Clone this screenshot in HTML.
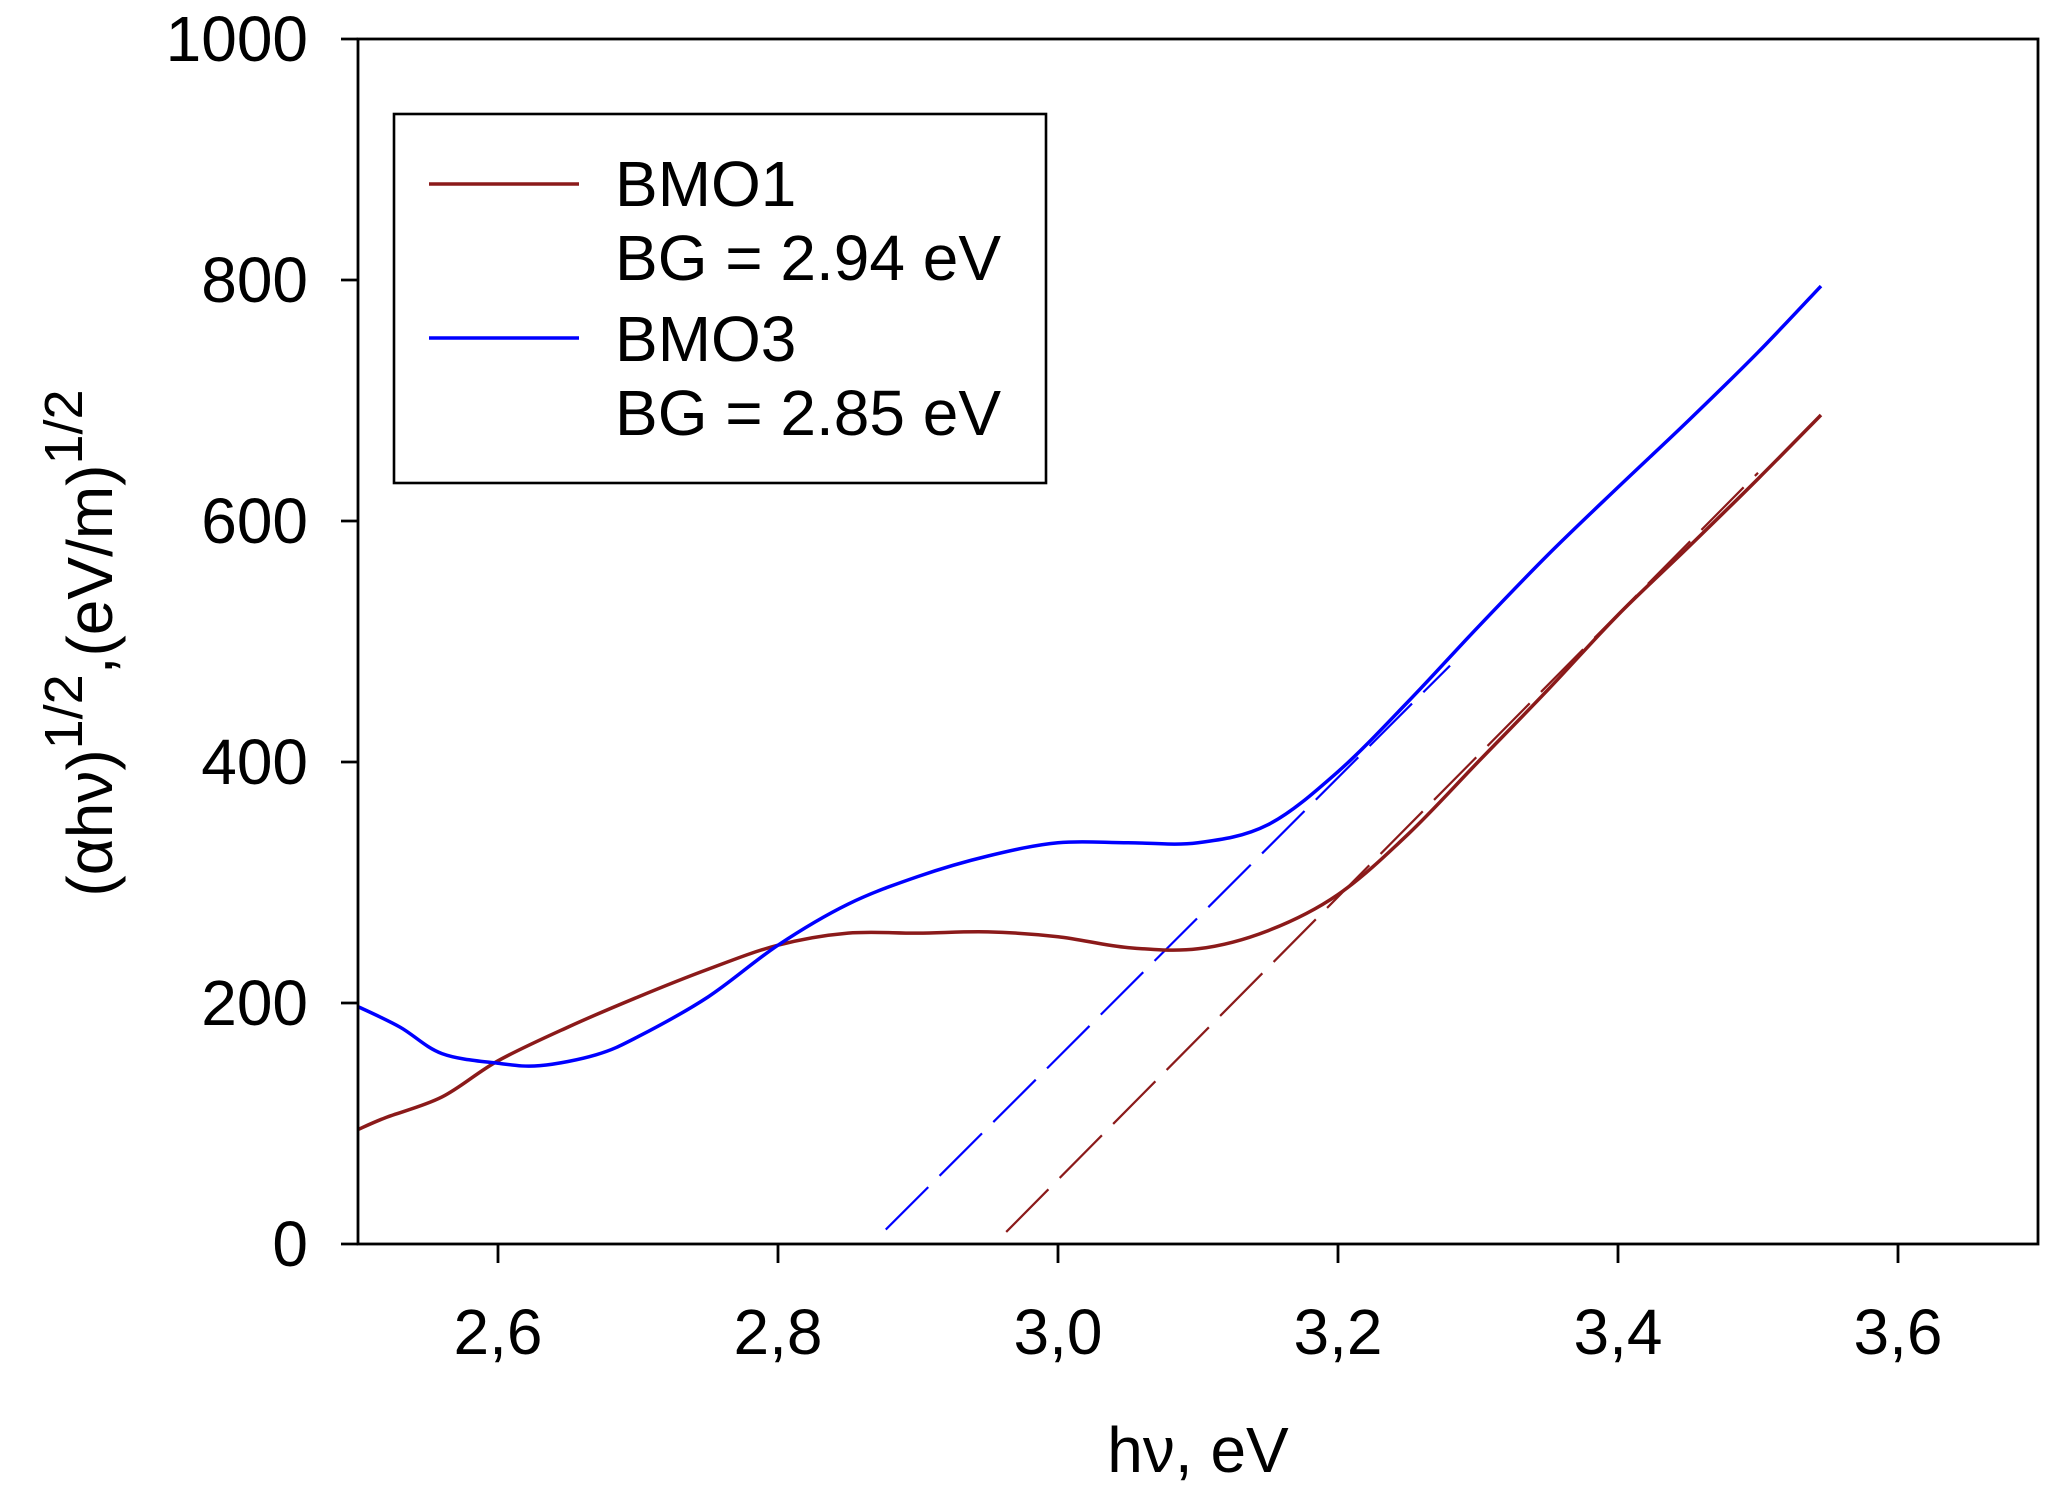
<!DOCTYPE html>
<html><head><meta charset="utf-8">
<style>
html,body{margin:0;padding:0;background:#fff;}
svg{display:block;font-family:"Liberation Sans",Arial,sans-serif;}
</style></head>
<body>
<svg id="chart" width="2057" height="1511" viewBox="0 0 2057 1511">
<rect x="0" y="0" width="2057" height="1511" fill="#fff"/>
<g id="plot"></g>
<g id="axes"></g>
<g>
  <rect x="394" y="114" width="652" height="369" fill="#fff" stroke="#000" stroke-width="2.6"/>
  <line x1="429" y1="184" x2="579" y2="184" stroke="#8b1a1a" stroke-width="3.5"/>
  <text x="615" y="206" font-size="64">BMO1</text>
  <text x="615" y="280" font-size="64">BG = 2.94 eV</text>
  <line x1="429" y1="338" x2="579" y2="338" stroke="#0000ff" stroke-width="3.5"/>
  <text x="615" y="361" font-size="64">BMO3</text>
  <text x="615" y="435" font-size="64">BG = 2.85 eV</text>
</g>
<text x="1198" y="1472" font-size="64" text-anchor="middle">hν, eV</text>
<text transform="translate(112,643) rotate(-90)" font-size="64" text-anchor="middle">(αhν)<tspan dy="-30" font-size="54">1/2</tspan><tspan dy="30">,(eV/m)</tspan><tspan dy="-30" font-size="54">1/2</tspan></text>
</svg>
<script>
const xTicks = [2.6, 2.8, 3.0, 3.2, 3.4, 3.6];
const xTickLabels = ["2,6", "2,8", "3,0", "3,2", "3,4", "3,6"];
const yTicks = [0, 200, 400, 600, 800, 1000];
const yTickLabels = ["0", "200", "400", "600", "800", "1000"];
const bmo1X = [2.5, 2.52, 2.56, 2.6, 2.65, 2.7, 2.75, 2.8, 2.85, 2.9, 2.95, 3.0, 3.05, 3.1, 3.15, 3.2, 3.25, 3.3, 3.35, 3.4, 3.45, 3.5, 3.545];
const bmo1Y = [95, 105, 122, 152, 180, 205, 228, 248, 258, 258, 259, 255, 246, 245, 260, 290, 340, 400, 460, 522, 578, 635, 688];
const bmo3X = [2.5, 2.53, 2.56, 2.6, 2.63, 2.67, 2.7, 2.75, 2.8, 2.85, 2.9, 2.95, 3.0, 3.05, 3.1, 3.15, 3.2, 3.25, 3.3, 3.35, 3.4, 3.45, 3.5, 3.545];
const bmo3Y = [197, 180, 158, 150, 148, 157, 172, 205, 248, 282, 305, 322, 333, 333, 333, 348, 392, 450, 512, 572, 628, 683, 740, 795];
const fit1X = [2.963, 3.5];
const fit1Y = [10, 640];
const fit3X = [2.877, 3.28];
const fit3Y = [12, 480];

const X0 = 358, X1 = 2038, Y0 = 1244, Y1 = 39;
const xMin = 2.5, xMax = 3.7, yMin = 0, yMax = 1000;
function sx(v){ return X0 + (v - xMin) / (xMax - xMin) * (X1 - X0); }
function sy(v){ return Y0 - (v - yMin) / (yMax - yMin) * (Y0 - Y1); }
const NS = "http://www.w3.org/2000/svg";
const plot = document.getElementById('plot');
const axes = document.getElementById('axes');
function mk(tag, attrs, parent){ const e = document.createElementNS(NS, tag); for (const k in attrs) e.setAttribute(k, attrs[k]); parent.appendChild(e); return e; }

function smoothPath(xs, ys){
  const p = xs.map((x,i)=>[sx(x), sy(ys[i])]);
  let d = "M" + p[0][0] + "," + p[0][1];
  for (let i=0;i<p.length-1;i++){
    const p0 = p[i-1]||p[i], p1=p[i], p2=p[i+1], p3=p[i+2]||p2;
    const c1x = p1[0]+(p2[0]-p0[0])/6, c1y = p1[1]+(p2[1]-p0[1])/6;
    const c2x = p2[0]-(p3[0]-p1[0])/6, c2y = p2[1]-(p3[1]-p1[1])/6;
    d += " C"+c1x+","+c1y+" "+c2x+","+c2y+" "+p2[0]+","+p2[1];
  }
  return d;
}

const f1 = mk('line', {x1:sx(fit1X[0]), y1:sy(fit1Y[0]), x2:sx(fit1X[1]), y2:sy(fit1Y[1]), stroke:'#8b1a1a', 'stroke-width':2.2, 'stroke-dasharray':'60 16', fill:'none'}, plot);


const f3 = mk('line', {x1:sx(fit3X[0]), y1:sy(fit3Y[0]), x2:sx(fit3X[1]), y2:sy(fit3Y[1]), stroke:'#0000ff', 'stroke-width':2.2, 'stroke-dasharray':'60 16', fill:'none'}, plot);


const l1 = mk('path', {d:smoothPath(bmo1X, bmo1Y), stroke:'#8b1a1a', 'stroke-width':3.5, fill:'none'}, plot);


const l3 = mk('path', {d:smoothPath(bmo3X, bmo3Y), stroke:'#0000ff', 'stroke-width':3.5, fill:'none'}, plot);



const frame = mk('rect', {x:X0, y:Y1, width:X1-X0, height:Y0-Y1, fill:'none', stroke:'#000', 'stroke-width':2.8}, axes);



xTicks.forEach((v,i)=>{
  const t = mk('line', {x1:sx(v), y1:Y0, x2:sx(v), y2:Y0+19, stroke:'#000', 'stroke-width':2.8}, axes);
  
  
  const lb = mk('text', {x:sx(v), y:1354, 'font-size':64, 'text-anchor':'middle'}, axes);
  lb.textContent = xTickLabels[i];
  
  
});
yTicks.forEach((v,i)=>{
  const t = mk('line', {x1:341, y1:sy(v), x2:X0, y2:sy(v), stroke:'#000', 'stroke-width':2.8}, axes);
  
  
  const lb = mk('text', {x:308, y:sy(v)+22, 'font-size':64, 'text-anchor':'end'}, axes);
  lb.textContent = yTickLabels[i];
  
  
});
</script>
</body></html>
